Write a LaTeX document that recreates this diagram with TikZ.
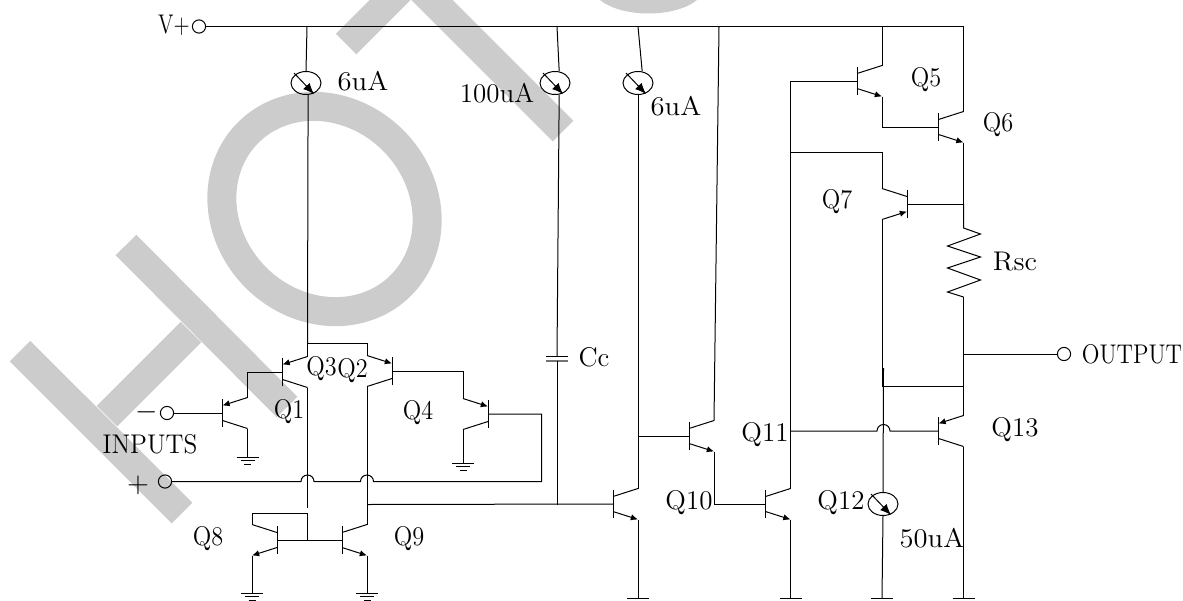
\documentclass[tikz,border=0pt]{standalone}
\usepackage{amsmath}
\usetikzlibrary{arrows.meta,shapes.geometric}
\definecolor{wmark}{HTML}{CCCCCC}

\newcommand{\bjt}[6]{% name, x, y, xscale, yscale, emitter style
	\begin{scope}[shift={(#2,#3)},xscale=#4,yscale=#5]
		\coordinate (#1b) at (0,0);
		\coordinate (#1c) at (25,-15.5);
		\coordinate (#1e) at (25,15.5);
		\draw (0,-14) -- (0,14);
		\draw (0,-7.5) -- (#1c);
		\draw[#6] (0,7.5) -- (#1e);
	\end{scope}
}
\newcommand{\isrc}[3]{% name, x, y
	\node[source] (#1) at (#2,#3) {};
	\draw[srcarrow] ([shift={(-12,-10)}]#1.center) -- ([shift={(8,11)}]#1.center);
}
\newcommand{\gnd}[1]{%
	\draw ([shift={(-11,0)}]#1) -- ([shift={(11,0)}]#1);
	\draw ([shift={(-7,3.5)}]#1) -- ([shift={(7,3.5)}]#1);
	\draw ([shift={(-3.5,7)}]#1) -- ([shift={(3.5,7)}]#1);
}

\begin{document}
\begin{tikzpicture}[x=0.5pt,y=-0.5pt,line width=0.5pt,
	outtip/.style={-{Latex[length=3.6pt,width=3.2pt]}},
	intip/.style={{Latex[length=3.6pt,width=3.2pt]}-},
	source/.style={ellipse,draw,minimum width=15pt,minimum height=11.5pt,inner sep=0pt},
	srcarrow/.style={-{Latex[length=5.5pt,width=4.5pt]}},
	terminal/.style={circle,draw,minimum size=6.6pt,inner sep=0pt},
	lbl/.style={inner sep=0pt,font=\fontsize{13.5}{16}\selectfont},
	qlbl/.style={lbl,xscale=0.9,transform shape},
	stroke/.style={wmark,line width=14.5pt}
]
	\clip (0,0) rectangle (1183,600);

	% watermark
	\draw[stroke] (20,351) -- (182,513);
	\draw[stroke] (126,245) -- (287,407);
	\draw[stroke] (107,416) -- (191,332);
	\draw[stroke] (324.5,209) ellipse[x radius=108,y radius=97,rotate=-45];
	\draw[stroke] (346,44) -- (410,-20);
	\draw[stroke] (563,131) -- (400,-32);
	\fill[wmark] (600,0) .. controls (622,18) and (675,18) .. (697,0) -- cycle;

	% terminals and sources
	\node[terminal] (Vp) at (199,26.5) {};
	\node[terminal] (Tm) at (167,413) {};
	\node[terminal] (Tp) at (165,481.5) {};
	\node[terminal] (Tout) at (1064,354) {};
	\isrc{S1}{306}{83}
	\isrc{S2}{555}{83}
	\isrc{S3}{638}{83}
	\isrc{S4}{883}{504}

	% transistors
	\bjt{Q1}{222.5}{413}{1}{-1}{intip}
	\bjt{Q3}{282.5}{372}{1}{-1}{intip}
	\bjt{Q2}{392}{371}{-1}{-1}{intip}
	\bjt{Q4}{488}{414}{-1}{-1}{intip}
	\bjt{Q8}{277}{540}{-1}{1}{outtip}
	\bjt{Q9}{342}{540}{1}{1}{outtip}
	\bjt{Qa}{613}{504}{1}{1}{outtip}
	\bjt{Qb}{689}{436}{1}{1}{outtip}
	\bjt{Qc}{765.5}{504}{1}{1}{outtip}
	\bjt{Q5}{857}{81}{1}{1}{outtip}
	\bjt{Q6}{938.5}{127}{1}{1}{outtip}
	\bjt{Q7}{907}{204}{-1}{1}{intip}
	\bjt{Q13}{938.5}{431}{1}{-1}{intip}

	% junctions
	\coordinate (T1) at (307,26.5);
	\coordinate (T2) at (557,26.5);
	\coordinate (T3) at (638,26.5);
	\coordinate (T4) at (719,26.5);
	\coordinate (T5) at (882,26.5);
	\coordinate (T6) at (963.5,26.5);
	\coordinate (J1) at (307.5,343);
	\coordinate (J2) at (307.5,513);
	\coordinate (J3) at (307.5,540);
	\coordinate (J4) at (367,504.5);
	\coordinate (J5) at (557,504.5);
	\coordinate (J6) at (638,436);
	\coordinate (J8) at (790.5,152);
	\coordinate (J9) at (790.5,431);
	\coordinate (J10) at (963.5,204);
	\coordinate (J11) at (963.5,354);
	\coordinate (J12) at (963.5,386);
	\coordinate (J13) at (882,386);
	\coordinate (J14) at (883.5,368);
	\coordinate (Q3x) at (307.5,508);
	\coordinate (P1) at (541.5,481.5);
	\coordinate (H1) at (301,481.5);
	\coordinate (H2) at (360.5,481.5);
	\coordinate (H3) at (877,431);
	\coordinate (C1) at (557,356);
	\coordinate (C2) at (557,361);
	\coordinate (Rt) at (963.5,228);
	\coordinate (Rb) at (963.5,297);
	\coordinate (G1) at (247.5,457);
	\coordinate (G4) at (463,463);
	\coordinate (G8) at (252,593);
	\coordinate (G9) at (367,593);
	\coordinate (Ga) at (638,598);
	\coordinate (Gc) at (790.5,598);
	\coordinate (G12) at (882,598);
	\coordinate (G13) at (963.5,598);

	% wires
	\draw (Vp) -- (T6);
	\draw (T1) -- (S1.north);
	\draw (S1.-80) -- (J1);
	\draw (T2) -- (S2.70);
	\draw (S2.-70) -- (C1);
	\draw (T3) -- (S3.70);
	\draw (S3.south) -- (Qac);
	\draw (T4) -- (Qbc);
	\draw (T5) -- (Q5c);
	\draw (T6) -- (Q6c);

	\draw (Q1e) |- (Q3b);
	\draw (Q1c) -- (G1);
	\draw (Tm) -- (Q1b);
	\draw (Q3e) -- (J1) -| (Q2e);
	\draw (Q3c) -- (Q3x);
	\draw (Q2c) -- (Q9c);
	\draw (Q4e) |- (Q2b);
	\draw (Q4c) -- (G4);
	\draw (Q8c) |- (J2) -- (J3);
	\draw (Q8b) -- (Q9b);
	\draw (Q8e) -- (G8);
	\draw (Q9e) -- (G9);
	\draw (Tp) -- (H1) arc[start angle=180,end angle=360,radius=6.5] -- (H2) arc[start angle=180,end angle=360,radius=6.5] -- (P1) |- (Q4b);

	\draw (J4) -- (Qab);
	\draw ([shift={(-11,0)}]C1) -- ([shift={(11,0)}]C1);
	\draw[black!55,line width=0.8pt] ([shift={(-11,0)}]C2) -- ([shift={(11,0)}]C2);
	\draw (C2) -- (J5);
	\draw (J6) -- (Qbb);
	\draw (Qae) -- (Ga);
	\draw (Qbe) |- (Qcb);
	\draw (Qce) -- (Gc);
	\draw (Qcc) |- (Q5b);
	\draw (J8) -| (Q7c);
	\draw (Q5e) |- (Q6b);
	\draw (Q6e) -- (J10);
	\draw (Q7b) -- (J10);
	\draw (J10) -- (Rt) -- ++(17,6) -- ++(-33,12) -- ++(33,11) -- ++(-33,11) -- ++(33,12) -- ++(-33,12) -- (Rb);
	\draw (Rb) -- (Q13e);
	\draw (J11) -- (Tout);
	\draw (J12) -- (J13) -- (Q7e);
	\draw (J14) -- (S4.north);
	\draw (S4.south) -- (G12);
	\draw (J9) -- (H3) arc[start angle=180,end angle=360,radius=6.5] -- (Q13b);
	\draw (Q13c) -- (G13);

	\gnd{G1}
	\gnd{G4}
	\gnd{G8}
	\gnd{G9}
	\gnd{Ga}
	\gnd{Gc}
	\gnd{G12}
	\gnd{G13}

	% labels
	\node[lbl,xscale=0.78,transform shape] (LV) at (174,25) {V+};
	\node[lbl] (Lm) at (147,412) {$-$};
	\node[lbl] (Lp) at (138,485) {$+$};
	\node[lbl,xscale=0.94,transform shape] (LIN) at (150,444) {INPUTS};
	\node[lbl,xscale=0.86,transform shape] (LOUT) at (1132,354) {OUTPUT};
	\node[lbl,xscale=1.06,transform shape] (L1) at (363,81) {6uA};
	\node[lbl] (L2) at (497,93) {100uA};
	\node[lbl,xscale=1.06,transform shape] (L3) at (676,106) {6uA};
	\node[lbl,xscale=1.06,transform shape] (L4) at (932,538) {50uA};
	\node[lbl] (LC) at (594,357) {Cc};
	\node[lbl,xscale=1.06,transform shape] (LR) at (1015,262) {Rsc};
	\node[qlbl] (LQ1) at (289,412) {Q1};
	\node[qlbl] (LQ2) at (352.5,371) {Q2};
	\node[qlbl] (LQ3) at (321.5,369) {Q3};
	\node[qlbl] (LQ4) at (418,413) {Q4};
	\node[qlbl] (LQ5) at (926,80) {Q5};
	\node[qlbl] (LQ6) at (998,125) {Q6};
	\node[qlbl] (LQ7) at (837,202) {Q7};
	\node[qlbl] (LQ8) at (208,539) {Q8};
	\node[qlbl] (LQ9) at (409,539) {Q9};
	\node[lbl] (LQ10) at (689,503) {Q10};
	\node[lbl] (LQ11) at (765,435) {Q11};
	\node[lbl] (LQ12) at (841,503) {Q12};
	\node[lbl] (LQ13) at (1015,430) {Q13};
\end{tikzpicture}
\end{document}
